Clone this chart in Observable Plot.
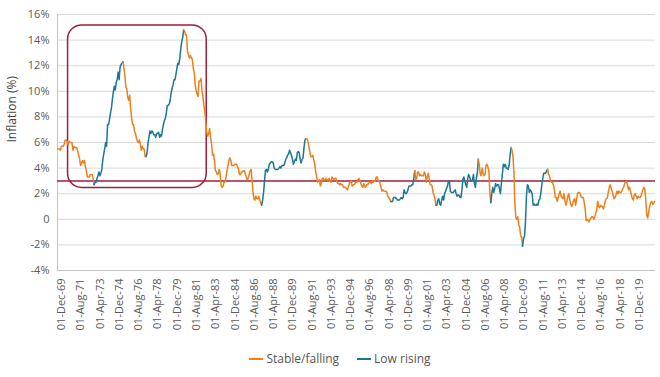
<!DOCTYPE html>
<html><head><meta charset="utf-8">
<script src="https://cdn.jsdelivr.net/npm/d3@7"></script>
<script src="https://cdn.jsdelivr.net/npm/@observablehq/plot@0.6"></script>
<style>
body{margin:0;background:#fff;font-family:"Open Sans",sans-serif}
#legend{display:flex;justify-content:center;gap:18px;font-size:12px;color:#555;margin-top:10px;padding-left:20px}
#legend span.sw{display:inline-block;width:14px;height:2px;vertical-align:middle;margin-right:3px;position:relative;top:-1px}
</style>
</head><body>
<div id="chart"></div>
<div id="legend"></div>
<script>
// Monthly year-on-year inflation (%), starting April 1969
const firstMonth = "1969-04";
const cpi = [
 5.5,5.5,5.5,5.4,5.7,5.7,5.7,5.9,6.2,
 6.2,6.1,5.8,6.1,6.0,6.0,6.0,5.4,5.7,5.6,5.6,5.6,
 5.3,5.0,4.7,4.2,4.4,4.6,4.4,4.6,4.1,3.8,3.3,3.3,
 3.3,3.5,3.5,3.5,3.2,2.7,2.9,2.9,3.2,3.4,3.7,3.4,
 3.6,3.9,4.6,5.1,5.5,6.0,5.7,7.4,7.4,7.8,8.3,8.7,
 9.4,10.0,10.4,10.1,10.7,10.9,11.5,10.9,11.9,12.1,12.2,12.3,
 11.8,11.2,10.3,10.2,9.5,9.3,9.7,8.6,7.9,7.4,7.4,6.9,
 6.7,6.3,6.1,6.0,6.2,5.9,5.4,5.7,5.5,5.5,4.9,4.9,
 5.2,6.0,6.4,6.9,6.7,6.9,6.8,6.6,6.6,6.4,6.7,6.7,
 6.8,6.4,6.6,6.5,7.0,7.4,7.7,7.9,8.3,8.9,8.9,9.0,
 9.3,9.9,10.2,10.5,10.9,10.9,11.3,11.8,12.2,12.1,12.6,13.3,
 13.9,14.2,14.8,14.7,14.4,14.4,13.1,12.9,12.6,12.8,12.6,12.5,
 11.8,11.4,10.5,10.0,9.8,9.6,10.8,10.8,11.0,10.1,9.6,8.9,
 8.4,7.6,6.8,6.5,6.7,7.1,6.4,5.9,5.0,5.1,4.6,3.8,
 3.7,3.5,3.6,3.9,3.5,2.6,2.5,2.6,2.9,2.9,3.3,3.8,
 4.2,4.6,4.8,4.6,4.2,4.2,4.2,4.3,4.3,4.3,4.1,3.9,
 3.5,3.5,3.7,3.7,3.8,3.8,3.6,3.3,3.1,3.2,3.5,3.8,
 3.9,3.1,2.2,1.6,1.5,1.8,1.6,1.6,1.8,1.5,1.3,1.1,
 1.5,2.1,3.0,3.8,3.9,3.7,3.9,4.3,4.4,4.5,4.5,4.4,
 4.0,3.9,3.9,3.9,3.9,4.0,4.1,4.0,4.2,4.2,4.2,4.4,
 4.7,4.8,5.0,5.1,5.4,5.2,5.0,4.7,4.3,4.5,4.7,4.6,
 5.2,5.3,5.2,4.7,4.4,4.7,4.8,5.6,6.2,6.3,6.3,6.1,
 5.7,5.3,4.9,4.9,5.0,4.7,4.4,3.8,3.4,2.9,3.0,3.1,
 2.6,2.8,3.2,3.2,3.0,3.1,3.2,3.1,3.0,3.2,3.0,2.9,
 3.3,3.2,3.1,3.2,3.2,3.0,2.8,2.8,2.7,2.8,2.7,2.7,
 2.5,2.5,2.5,2.4,2.3,2.5,2.8,2.9,3.0,2.6,2.7,2.7,
 2.8,2.9,2.9,3.1,3.2,3.0,2.8,2.6,2.5,2.8,2.6,2.5,
 2.7,2.7,2.8,2.9,2.9,2.8,3.0,2.9,3.0,3.0,3.3,3.3,
 3.0,3.0,2.8,2.5,2.2,2.3,2.2,2.2,2.2,2.1,1.8,1.7,
 1.6,1.4,1.4,1.4,1.7,1.7,1.7,1.6,1.5,1.5,1.5,1.6,
 1.7,1.6,1.7,2.3,2.1,2.0,2.1,2.3,2.6,2.6,2.6,2.7,
 2.7,3.2,3.8,3.1,3.2,3.7,3.7,3.4,3.5,3.4,3.4,3.4,
 3.7,3.5,2.9,3.3,3.6,3.2,2.7,2.7,2.6,2.1,1.9,1.6,
 1.1,1.1,1.5,1.6,1.2,1.1,1.5,1.8,1.5,2.0,2.2,2.4,
 2.6,3.0,3.0,2.2,2.1,2.1,2.1,2.2,2.3,2.0,1.8,1.9,
 1.9,1.7,1.7,2.3,3.1,3.3,3.0,2.7,2.5,3.2,3.5,3.3,
 3.0,3.0,3.1,3.5,2.8,2.5,3.2,3.6,4.7,4.3,3.5,3.4,
 4.0,3.6,3.4,3.5,4.2,4.3,4.1,3.8,2.1,1.3,2.0,2.5,
 2.1,2.4,2.8,2.6,2.7,2.7,2.4,2.0,2.8,3.5,4.3,4.1,
 4.3,4.0,4.0,3.9,4.2,5.0,5.6,5.4,4.9,3.7,1.1,0.1,
 0.0,0.2,-0.4,-0.6,-1.3,-1.4,-2.1,-1.5,-1.3,-0.2,1.8,2.7,
 2.6,2.1,2.3,2.2,2.0,1.1,1.2,1.1,1.1,1.2,1.1,1.5,
 1.6,2.1,2.7,3.2,3.6,3.6,3.6,3.8,3.9,3.5,3.4,3.0,
 2.9,2.9,2.7,2.3,1.7,1.7,1.4,1.7,2.0,2.2,1.8,1.7,
 1.6,2.0,1.5,1.1,1.4,1.8,2.0,1.5,1.2,1.0,1.2,1.5,
 1.6,1.1,1.5,2.0,2.1,2.1,2.0,1.7,1.7,1.7,1.3,0.8,
 -0.1,0.0,-0.1,-0.2,0.0,0.1,0.2,0.2,0.0,0.2,0.5,0.7,
 1.4,1.0,0.9,1.1,1.0,1.0,0.8,1.1,1.5,1.6,1.7,2.1,
 2.5,2.7,2.4,2.2,1.9,1.6,1.7,1.9,2.2,2.0,2.2,2.1,
 2.1,2.2,2.4,2.5,2.8,2.9,2.9,2.7,2.3,2.5,2.2,1.9,
 1.6,1.5,1.9,2.0,1.8,1.6,1.8,1.7,1.7,1.8,2.1,2.3,
 2.5,2.3,1.5,0.3,0.1,0.6,1.0,1.3,1.4,1.2,1.2,1.4
];
// "Low rising" periods: trough month -> peak month
const risingStart = ["1972-06","1976-12","1986-12","1998-02","2002-01","2006-10","2009-07"];
const risingEnd   = ["1974-12","1980-03","1990-10","2000-03","2005-09","2008-07","2011-09"];
const regimes = ["Stable/falling","Low rising"];
const regimeColors = ["#ec801e","#1b7796"];
const xTickLabels = ["01-Dec-69","01-Aug-71","01-Apr-73","01-Dec-74","01-Aug-76","01-Apr-78","01-Dec-79","01-Aug-81","01-Apr-83","01-Dec-84","01-Aug-86","01-Apr-88","01-Dec-89","01-Aug-91","01-Apr-93","01-Dec-94","01-Aug-96","01-Apr-98","01-Dec-99","01-Aug-01","01-Apr-03","01-Dec-04","01-Aug-06","01-Apr-08","01-Dec-09","01-Aug-11","01-Apr-13","01-Dec-14","01-Aug-16","01-Apr-18","01-Dec-19"];
const yTicks = [-4,-2,0,2,4,6,8,10,12,14,16];
const yTickLabels = ["-4%","-2%","0","2%","4%","6%","8%","10%","12%","14%","16%"];
const threshold = 3;
const boxStart = "1970-03", boxEnd = "1982-03", boxLow = 2.45, boxHigh = 15.15;

const pm = d3.utcParse("%Y-%m");
const pt = d3.utcParse("%d-%b-%y");
const start = pm(firstMonth);
const pts = cpi.map((v,i)=>({date: d3.utcMonth.offset(start,i), value: v}));
const periods = risingStart.map((s,i)=>[pm(s), pm(risingEnd[i])]);
const isRising = d => periods.some(([a,b]) => d >= a && d <= b);
const rows = [];
let seg = -1, prev = null;
for (let i = 0; i < pts.length - 1; i++) {
  const r = (isRising(pts[i].date) && isRising(pts[i+1].date)) ? regimes[1] : regimes[0];
  if (r !== prev) { seg++; rows.push({...pts[i], seg, r}); prev = r; }
  rows.push({...pts[i+1], seg, r});
}
const xEnd = d3.utcMonth.offset(start, cpi.length);
const tickLab = new Map(yTicks.map((t,i)=>[t, yTickLabels[i]]));

const chart = Plot.plot({
  width: 660, height: 340,
  marginLeft: 57, marginRight: 5, marginTop: 14, marginBottom: 70,
  style: {fontFamily: '"Open Sans", sans-serif', fontSize: "11px", color: "#595959", background: "#fff"},
  x: {type: "utc", domain: [start, xEnd], axis: null},
  y: {domain: [-4, 16], axis: null},
  color: {domain: regimes, range: regimeColors},
  marks: [
    Plot.ruleY(yTicks.filter(t => t !== -4), {stroke: "#d9d9d9", strokeWidth: 1}),
    Plot.ruleY([-4], {stroke: "#c4c4c4", strokeWidth: 1}),
    Plot.ruleX([start], {y1: -4, y2: 16, stroke: "#c4c4c4"}),
    Plot.text(yTicks, {frameAnchor: "left", y: d => d, text: d => tickLab.get(d), textAnchor: "end", dx: -8, fill: "#595959", fontSize: 11}),
    Plot.text(["Inflation (%)"], {frameAnchor: "left", dx: -45, rotate: -90, fill: "#444", fontSize: 12}),
    Plot.text(xTickLabels, {x: d => pt(d), frameAnchor: "bottom", dy: 8, rotate: -90, textAnchor: "end", text: d => d, fill: "#595959", fontSize: 11}),
    Plot.ruleY([threshold], {stroke: "#a11d3a", strokeWidth: 1.5}),
    Plot.rect([{x1: pm(boxStart), x2: pm(boxEnd), y1: boxLow, y2: boxHigh}], {x1: "x1", x2: "x2", y1: "y1", y2: "y2", rx: 14, fill: "none", stroke: "#a11d3a", strokeWidth: 1.5}),
    Plot.line(rows, {x: "date", y: "value", z: "seg", stroke: "r", strokeWidth: 1.5, strokeLinejoin: "round"})
  ]
});
document.getElementById("chart").appendChild(chart);
const lg = document.getElementById("legend");
regimes.forEach((r,i) => {
  const s = document.createElement("span");
  s.innerHTML = `<span class="sw" style="background:${regimeColors[i]}"></span>${r}`;
  lg.appendChild(s);
});
</script>
</body></html>
